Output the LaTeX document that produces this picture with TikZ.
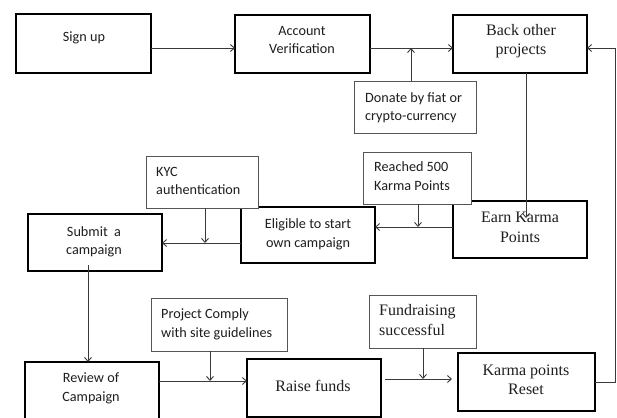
\documentclass[tikz,border=0pt]{standalone}
\usepackage{fontspec}
\setmainfont{Liberation Serif}
\newfontfamily\carl{Carlito}
\usetikzlibrary{arrows.meta,calc}
\definecolor{ln}{HTML}{3A3A3A}
\definecolor{thinln}{HTML}{555555}
\definecolor{tx}{HTML}{1E1E1E}
\tikzset{
  bigbox/.style={draw=black, line width=2pt, fill=white, inner sep=0pt, outer sep=0pt},
  smallbox/.style={draw=thinln, line width=0.8pt, fill=white, inner sep=0pt, outer sep=0pt},
  sanstxt/.style={font=\carl\fontsize{14.2}{17}\selectfont, text=tx, inner sep=0pt, anchor=base, yshift=-1.5pt},
  seriftxt/.style={font=\fontsize{16}{19}\selectfont, text=tx, inner sep=0pt, anchor=base, yshift=-0.5pt},
  lefttxt/.style={anchor=base west},
  arr/.style={draw=ln, line width=0.9pt, -{Straight Barb[length=4pt,width=7pt]}},
  plain/.style={draw=ln, line width=0.9pt}
}
\begin{document}
\begin{tikzpicture}[x=1pt,y=-1pt]
\useasboundingbox (0,0) rectangle (617,417);
\clip (0,0) rectangle (617,417);
\fill[white] (0,0) rectangle (617,417);

% main boxes
\node[bigbox, minimum width=135pt, minimum height=59pt] (signup)   at (83.5,43.5) {};
\node[bigbox, minimum width=135pt, minimum height=58pt] (account)  at (302.5,44) {};
\node[bigbox, minimum width=134pt, minimum height=58pt] (back)     at (520,44) {};
\node[bigbox, minimum width=134pt, minimum height=57pt] (earn)     at (520,229.5) {};
\node[bigbox, minimum width=134pt, minimum height=56pt] (eligible) at (308,235) {};
\node[bigbox, minimum width=134pt, minimum height=57pt] (submit)   at (95,242.5) {};
\node[bigbox, minimum width=134pt, minimum height=58pt] (review)   at (92,391) {};
\node[bigbox, minimum width=134pt, minimum height=58pt] (raise)    at (314,388) {};
\node[bigbox, minimum width=137pt, minimum height=58pt] (reset)    at (526.5,382) {};

% condition boxes
\node[smallbox, minimum width=122pt, minimum height=52pt] (donate)  at (415,107) {};
\node[smallbox, minimum width=112pt, minimum height=52pt] (kyc)     at (202,182) {};
\node[smallbox, minimum width=108pt, minimum height=52pt] (reached) at (417,178) {};
\node[smallbox, minimum width=136pt, minimum height=53pt] (project) at (219,324.5) {};
\node[smallbox, minimum width=107pt, minimum height=53pt] (fund)    at (422.5,321.5) {};

% texts
\node[sanstxt] (tsignup) at (84,40) {Sign up};
\node[sanstxt] (tacc1) at (302,34) {Account};
\node[sanstxt] (tacc2) at (302,52) {Verification};
\node[seriftxt] (tback1) at (521,35) {Back other};
\node[seriftxt] (tback2) at (521,54) {projects};
\node[sanstxt, lefttxt] (tdon1) at (365,101) {Donate by fiat or};
\node[sanstxt, lefttxt] (tdon2) at (365,119) {crypto-currency};
\node[sanstxt, lefttxt] (tkyc1) at (156,175) {KYC};
\node[sanstxt, lefttxt] (tkyc2) at (156,193) {authentication};
\node[sanstxt, lefttxt] (trea1) at (374,170) {Reached 500};
\node[sanstxt, lefttxt] (trea2) at (374,189) {Karma Points};
\node[seriftxt] (tearn1) at (520,222) {Earn Karma};
\node[seriftxt] (tearn2) at (520,242) {Points};
\node[sanstxt] (telig1) at (308,227) {Eligible to start};
\node[sanstxt] (telig2) at (308,246) {own campaign};
\node[sanstxt] (tsub1) at (94,235) {Submit\ \ a};
\node[sanstxt] (tsub2) at (94,253) {campaign};
\node[sanstxt, lefttxt] (tpro1) at (161,317) {Project Comply};
\node[sanstxt, lefttxt] (tpro2) at (161,336) {with site guidelines};
\node[seriftxt, lefttxt] (tfun1) at (379,315) {Fundraising};
\node[seriftxt, lefttxt] (tfun2) at (379,335) {successful};
\node[sanstxt] (trev1) at (91,381) {Review of};
\node[sanstxt] (trev2) at (91,400) {Campaign};
\node[seriftxt] (traise) at (313,391) {Raise funds};
\node[seriftxt] (treset1) at (526,375) {Karma points};
\node[seriftxt] (treset2) at (526,394) {Reset};

% junction coordinates
\coordinate (j1) at (411,48);
\coordinate (e1) at (526,218);
\coordinate (rc) at (615.5,48);
\coordinate (j2) at (418,227);
\coordinate (j3) at (205,243);
\coordinate (s1) at (88,265);
\coordinate (j5) at (210,381);
\coordinate (j6) at (423,379);

% connectors
\draw[arr] (signup.east |- j1) -- (account.west |- j1);
\draw[arr] (account.east |- j1) -- (back.west |- j1);
\draw[arr] (donate.north -| j1) -- (j1);
\draw[arr] (back.south -| e1) -- (e1);
\draw[arr] (reset.east) -| (rc) -- (back.east |- rc);
\draw[arr] (earn.west |- j2) -- (eligible.east |- j2);
\draw[arr] (reached.south -| j2) -- (j2);
\draw[arr] (eligible.west |- j3) -- (submit.east |- j3);
\draw[arr] (kyc.south -| j3) -- (j3);
\draw[arr] (s1) -- (review.north -| s1);
\draw[arr] (review.east |- j5) -- (raise.west |- j5);
\draw[arr] (project.south -| j5) -- (j5);
\draw[arr, shorten <=4pt, shorten >=6pt] (raise.east |- j6) -- (reset.west |- j6);
\draw[arr] (fund.south -| j6) -- (j6);
\end{tikzpicture}
\end{document}
